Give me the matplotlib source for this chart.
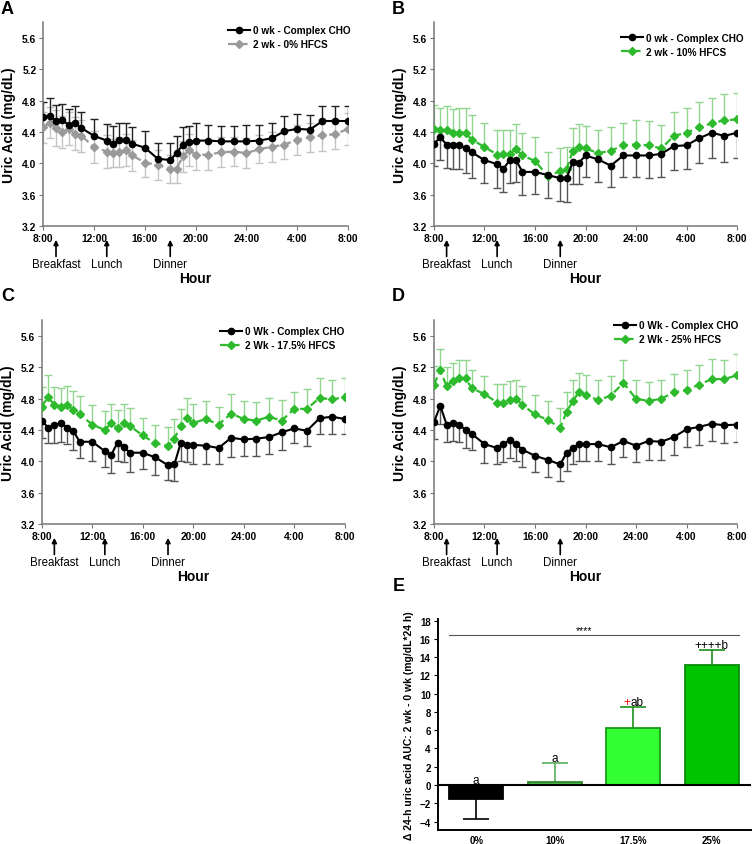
import numpy as np
import matplotlib.pyplot as plt

plt.rcParams['font.family'] = ['Liberation Sans', 'DejaVu Sans']

#time axis (hours after 8:00)
hours = [0, 0.5, 1, 1.5, 2, 2.5, 3, 4, 5, 5.5, 6, 6.5, 7, 8, 9, 10, 10.5, 11, 11.5, 12,
         13, 14, 15, 16, 17, 18, 19, 20, 21, 22, 23, 24]
tick_pos = [0, 4, 8, 12, 16, 20, 24]
tick_lab = ['8:00', '12:00', '16:00', '20:00', '24:00', '4:00', '8:00']
y_ticks = [3.2, 3.6, 4.0, 4.4, 4.8, 5.2, 5.6]
meals = ['Breakfast', 'Lunch', 'Dinner']
meal_hours = [1, 5, 10]

#panel A
a_ctrl = [4.59, 4.61, 4.54, 4.55, 4.49, 4.51, 4.45, 4.35, 4.29, 4.25, 4.30, 4.30, 4.25, 4.20, 4.06, 4.04,
          4.13, 4.24, 4.27, 4.29, 4.29, 4.28, 4.28, 4.28, 4.29, 4.32, 4.41, 4.44, 4.43, 4.54, 4.54, 4.54]
a_ctrl_sem = [0.19, 0.22, 0.20, 0.21, 0.20, 0.22, 0.20, 0.21, 0.21, 0.22, 0.21, 0.21, 0.21, 0.21, 0.20, 0.22,
              0.22, 0.22, 0.21, 0.22, 0.20, 0.20, 0.19, 0.21, 0.20, 0.20, 0.19, 0.19, 0.19, 0.19, 0.19, 0.19]
a_hfcs = [4.46, 4.52, 4.45, 4.40, 4.44, 4.38, 4.35, 4.21, 4.15, 4.13, 4.14, 4.17, 4.10, 4.01, 3.98, 3.93,
          3.93, 4.09, 4.17, 4.11, 4.11, 4.14, 4.15, 4.13, 4.18, 4.21, 4.24, 4.30, 4.33, 4.36, 4.37, 4.44]
a_hfcs_sem = [0.20, 0.20, 0.23, 0.20, 0.21, 0.21, 0.20, 0.20, 0.21, 0.18, 0.19, 0.20, 0.20, 0.19, 0.19, 0.18,
              0.18, 0.20, 0.20, 0.19, 0.19, 0.19, 0.19, 0.19, 0.18, 0.19, 0.18, 0.19, 0.19, 0.20, 0.19, 0.20]

#panel B
b_ctrl = [4.25, 4.33, 4.24, 4.24, 4.24, 4.19, 4.14, 4.04, 3.99, 3.93, 4.04, 4.04, 3.89, 3.89, 3.85, 3.81,
          3.81, 4.02, 4.01, 4.10, 4.05, 3.97, 4.10, 4.10, 4.10, 4.12, 4.22, 4.23, 4.32, 4.39, 4.35, 4.39]
b_ctrl_sem = [0.28, 0.29, 0.30, 0.31, 0.31, 0.32, 0.33, 0.29, 0.31, 0.30, 0.29, 0.28, 0.30, 0.28, 0.29, 0.29,
              0.31, 0.29, 0.28, 0.28, 0.29, 0.27, 0.28, 0.28, 0.29, 0.29, 0.31, 0.30, 0.31, 0.32, 0.33, 0.32]
b_hfcs = [4.44, 4.42, 4.42, 4.39, 4.39, 4.39, 4.30, 4.21, 4.11, 4.12, 4.12, 4.18, 4.10, 4.03, 3.84, 3.90,
          3.93, 4.16, 4.21, 4.19, 4.13, 4.16, 4.23, 4.24, 4.23, 4.19, 4.35, 4.39, 4.46, 4.51, 4.55, 4.56]
b_hfcs_sem = [0.31, 0.29, 0.31, 0.30, 0.31, 0.32, 0.32, 0.31, 0.32, 0.31, 0.31, 0.32, 0.29, 0.30, 0.31, 0.30,
              0.28, 0.29, 0.29, 0.29, 0.29, 0.30, 0.29, 0.31, 0.31, 0.30, 0.31, 0.32, 0.32, 0.33, 0.34, 0.34]

#panel C
c_ctrl = [4.52, 4.43, 4.46, 4.49, 4.43, 4.39, 4.25, 4.25, 4.13, 4.08, 4.24, 4.18, 4.11, 4.11, 4.05, 3.95,
          3.96, 4.23, 4.21, 4.21, 4.20, 4.17, 4.30, 4.28, 4.29, 4.31, 4.37, 4.42, 4.39, 4.55, 4.57, 4.54]
c_ctrl_sem = [0.22, 0.20, 0.22, 0.24, 0.21, 0.24, 0.21, 0.24, 0.20, 0.23, 0.24, 0.19, 0.24, 0.21, 0.22, 0.19,
              0.21, 0.23, 0.22, 0.25, 0.24, 0.21, 0.25, 0.21, 0.22, 0.21, 0.22, 0.19, 0.19, 0.20, 0.22, 0.19]
c_hfcs = [4.70, 4.82, 4.72, 4.70, 4.72, 4.66, 4.60, 4.47, 4.40, 4.49, 4.42, 4.49, 4.45, 4.33, 4.23, 4.20,
          4.29, 4.45, 4.55, 4.49, 4.54, 4.47, 4.61, 4.54, 4.52, 4.57, 4.52, 4.67, 4.67, 4.81, 4.79, 4.82]
c_hfcs_sem = [0.25, 0.28, 0.23, 0.23, 0.24, 0.24, 0.24, 0.25, 0.24, 0.24, 0.23, 0.24, 0.23, 0.22, 0.24, 0.24,
              0.25, 0.22, 0.26, 0.24, 0.23, 0.23, 0.25, 0.23, 0.24, 0.24, 0.26, 0.22, 0.25, 0.25, 0.25, 0.24]

#panel D
d_ctrl = [4.50, 4.71, 4.47, 4.49, 4.47, 4.40, 4.35, 4.22, 4.17, 4.22, 4.27, 4.22, 4.15, 4.07, 4.02, 3.96,
          4.11, 4.17, 4.22, 4.22, 4.22, 4.18, 4.26, 4.20, 4.26, 4.25, 4.31, 4.41, 4.44, 4.48, 4.46, 4.47]
d_ctrl_sem = [0.22, 0.23, 0.22, 0.23, 0.22, 0.23, 0.21, 0.24, 0.21, 0.23, 0.23, 0.22, 0.22, 0.21, 0.22, 0.21,
              0.23, 0.21, 0.22, 0.22, 0.22, 0.21, 0.21, 0.21, 0.24, 0.23, 0.23, 0.23, 0.23, 0.22, 0.23, 0.22]
d_hfcs = [4.98, 5.16, 4.96, 5.03, 5.06, 5.06, 4.93, 4.86, 4.75, 4.75, 4.78, 4.80, 4.72, 4.60, 4.53, 4.43,
          4.63, 4.77, 4.89, 4.85, 4.78, 4.84, 5.00, 4.80, 4.77, 4.80, 4.88, 4.91, 4.98, 5.05, 5.05, 5.10]
d_hfcs_sem = [0.24, 0.27, 0.24, 0.23, 0.24, 0.24, 0.23, 0.23, 0.24, 0.24, 0.24, 0.24, 0.24, 0.25, 0.24, 0.25,
              0.26, 0.27, 0.24, 0.25, 0.26, 0.25, 0.29, 0.24, 0.24, 0.24, 0.24, 0.26, 0.25, 0.26, 0.25, 0.27]

#panel E
groups = ['0%', '10%', '17.5%', '25%']
auc = [-1.5, 0.3, 6.2, 13.1]
auc_sem = [2.2, 2.15, 2.3, 1.7]
auc_letters = ['a', 'a', 'ab', 'b']
auc_plus = ['', '', '+', '++++']

GREEN = '#2dbb2d'
GREEN_ERR = '#8fd68f'

fig = plt.figure(figsize=(7.52, 8.45), dpi=100)


def err_bars(ax, x, y, sem, side, color, ms=6, lw=1.0, z=1):
    x = np.asarray(x)
    y = np.asarray(y)
    sem = np.asarray(sem)
    lo = y - sem if side in ('down', 'both') else y
    hi = y + sem if side in ('up', 'both') else y
    ax.vlines(x, lo, hi, color=color, lw=lw, zorder=z)
    if side in ('up', 'both'):
        ax.plot(x, hi, ls='none', marker='_', ms=ms, mew=lw, color=color, zorder=z)
    if side in ('down', 'both'):
        ax.plot(x, lo, ls='none', marker='_', ms=ms, mew=lw, color=color, zorder=z)


def time_panel(rect, letter, letter_xy, ctrl, ctrl_sem, ctrl_side, ctrl_err,
               trt, trt_sem, trt_side, trt_col, trt_err, labels, leg_anchor):
    ax = fig.add_axes(rect)
    err_bars(ax, hours, trt, trt_sem, trt_side, trt_err, z=1)
    err_bars(ax, hours, ctrl, ctrl_sem, ctrl_side, ctrl_err, z=2)
    ax.plot(hours, trt, color=trt_col, lw=1.6, ls=(0, (3.5, 1.8)), marker='D', ms=4.2,
            label=labels[1], zorder=3)
    ax.plot(hours, ctrl, color='black', lw=1.5, marker='o', ms=4.5, label=labels[0], zorder=4)
    # legend keeps control first
    h, l = ax.get_legend_handles_labels()
    ax.legend(h[::-1], l[::-1], loc='upper right', bbox_to_anchor=leg_anchor, frameon=False,
              prop={'weight': 'bold', 'size': 7.2}, handlelength=2.2, handletextpad=0.3,
              labelspacing=0.4, borderaxespad=0, borderpad=0)

    ax.set_xlim(0, 24)
    ax.set_ylim(3.2, 5.8)
    ax.set_xticks(tick_pos)
    ax.set_xticklabels(tick_lab)
    ax.set_yticks(y_ticks)
    ax.set_yticklabels(['%.1f' % v for v in y_ticks])
    for lab in ax.get_xticklabels() + ax.get_yticklabels():
        lab.set_fontweight('bold')
    ax.tick_params(labelsize=7.4, length=3, pad=2, color='#777')
    ax.spines['top'].set_visible(False)
    ax.spines['right'].set_visible(False)
    for s in ['left', 'bottom']:
        ax.spines[s].set_color('#777')
        ax.spines[s].set_linewidth(1.1)
    ax.set_ylabel('Uric Acid (mg/dL)', fontsize=10, fontweight='bold', labelpad=4)

    # meal markers
    tr = ax.get_xaxis_transform()
    for m, t in zip(meals, meal_hours):
        ax.annotate('', xy=(t, -0.068), xytext=(t, -0.15), xycoords=tr, textcoords=tr,
                    arrowprops=dict(arrowstyle='-|>', color='black', lw=1.2, mutation_scale=7,
                                    shrinkA=0, shrinkB=0))
        ax.text(t, -0.187, m, transform=tr, ha='center', va='center', fontsize=8.3)
    ax.text(0.5, -0.255, 'Hour', transform=ax.transAxes, ha='center', va='center',
            fontsize=10, fontweight='bold')
    fig.text(letter_xy[0] / 752, 1 - letter_xy[1] / 845, letter, fontsize=13,
             fontweight='bold', ha='left', va='top')
    return ax


time_panel([0.0576, 0.7314, 0.405, 0.241], 'A', (1, 1), a_ctrl, a_ctrl_sem, 'up', '#222',
           a_hfcs, a_hfcs_sem, 'both', '#9a9a9a', '#c4c4c4',
           ['0 wk - Complex CHO', '2 wk - 0% HFCS'], (1.01, 0.985))
time_panel([0.5771, 0.7314, 0.403, 0.241], 'B', (392, 1), b_ctrl, b_ctrl_sem, 'down', '#555',
           b_hfcs, b_hfcs_sem, 'up', GREEN, GREEN_ERR,
           ['0 wk - Complex CHO', '2 wk - 10% HFCS'], (1.022, 0.95))
time_panel([0.0555, 0.3787, 0.403, 0.241], 'C', (1, 288), c_ctrl, c_ctrl_sem, 'down', '#555',
           c_hfcs, c_hfcs_sem, 'up', GREEN, GREEN_ERR,
           ['0 Wk - Complex CHO', '2 Wk - 17.5% HFCS'], (0.997, 0.97))
time_panel([0.5771, 0.3787, 0.403, 0.241], 'D', (392, 288), d_ctrl, d_ctrl_sem, 'down', '#555',
           d_hfcs, d_hfcs_sem, 'up', GREEN, GREEN_ERR,
           ['0 Wk - Complex CHO', '2 Wk - 25% HFCS'], (1.003, 1.0))

#panel E - bar chart
ax = fig.add_axes([0.582, 0.0169, 0.4167, 0.2495])
x = np.arange(len(groups))
auc = np.array(auc)
auc_sem = np.array(auc_sem)
width = 0.69
fills = ['black', '#4db84d', '#33ff33', '#00c400']
edges = ['black', '#2e8b2e', '#1a9a1a', '#0a8a0a']
err_cols = ['black', '#5aad5a', '#1f8f1f', '#1f8f1f']
ax.bar(x, auc, width=width, color=fills, edgecolor=edges, lw=1.3, zorder=2)
for i in range(len(groups)):
    side = 'up' if auc[i] > 0 else 'down'
    err_bars(ax, [x[i]], [auc[i]], [auc_sem[i]], side, err_cols[i], ms=19, lw=1.2, z=1)
ax.axhline(0, color='black', lw=1.5, zorder=3)

# group letters above the error bars
top = np.where(auc > 0, auc + auc_sem, 0) + 0.55
for i in range(len(groups)):
    if auc_plus[i] == '+':
        ax.text(x[i] - 0.04, top[i], '+', color='red', ha='right', va='center', fontsize=8.5)
        ax.text(x[i] - 0.04, top[i], auc_letters[i], ha='left', va='center', fontsize=8.5)
    else:
        ax.text(x[i], top[i], auc_plus[i] + auc_letters[i], ha='center', va='center', fontsize=8.5)

# overall trend line
ax.plot([x[0] - width / 2, x[-1] + width / 2], [16.4, 16.4], color='#555', lw=0.8)
ax.text(1.38, 16.45, '****', ha='center', va='bottom', fontsize=7.5)

ax.set_xlim(-0.49, 3.5)
ax.set_ylim(-4.9, 18.2)
ax.set_yticks(range(-4, 19, 2))
ax.set_xticks(x)
ax.set_xticklabels(groups)
for lab in ax.get_xticklabels() + ax.get_yticklabels():
    lab.set_fontweight('bold')
ax.tick_params(axis='y', labelsize=7, length=3, pad=2)
ax.tick_params(axis='x', labelsize=7, length=0, pad=4)
ax.spines['top'].set_visible(False)
ax.spines['right'].set_visible(False)
ax.spines['left'].set_linewidth(1.4)
ax.spines['bottom'].set_linewidth(1.4)
ax.set_ylabel('\u0394 24-h uric acid AUC: 2 wk - 0 wk (mg/dL*24 h)', fontsize=7.5,
              fontweight='bold', labelpad=4)
fig.text(393 / 752, 1 - 578 / 845, 'E', fontsize=13, fontweight='bold', ha='left', va='top')

plt.savefig('out.png', dpi=100)
